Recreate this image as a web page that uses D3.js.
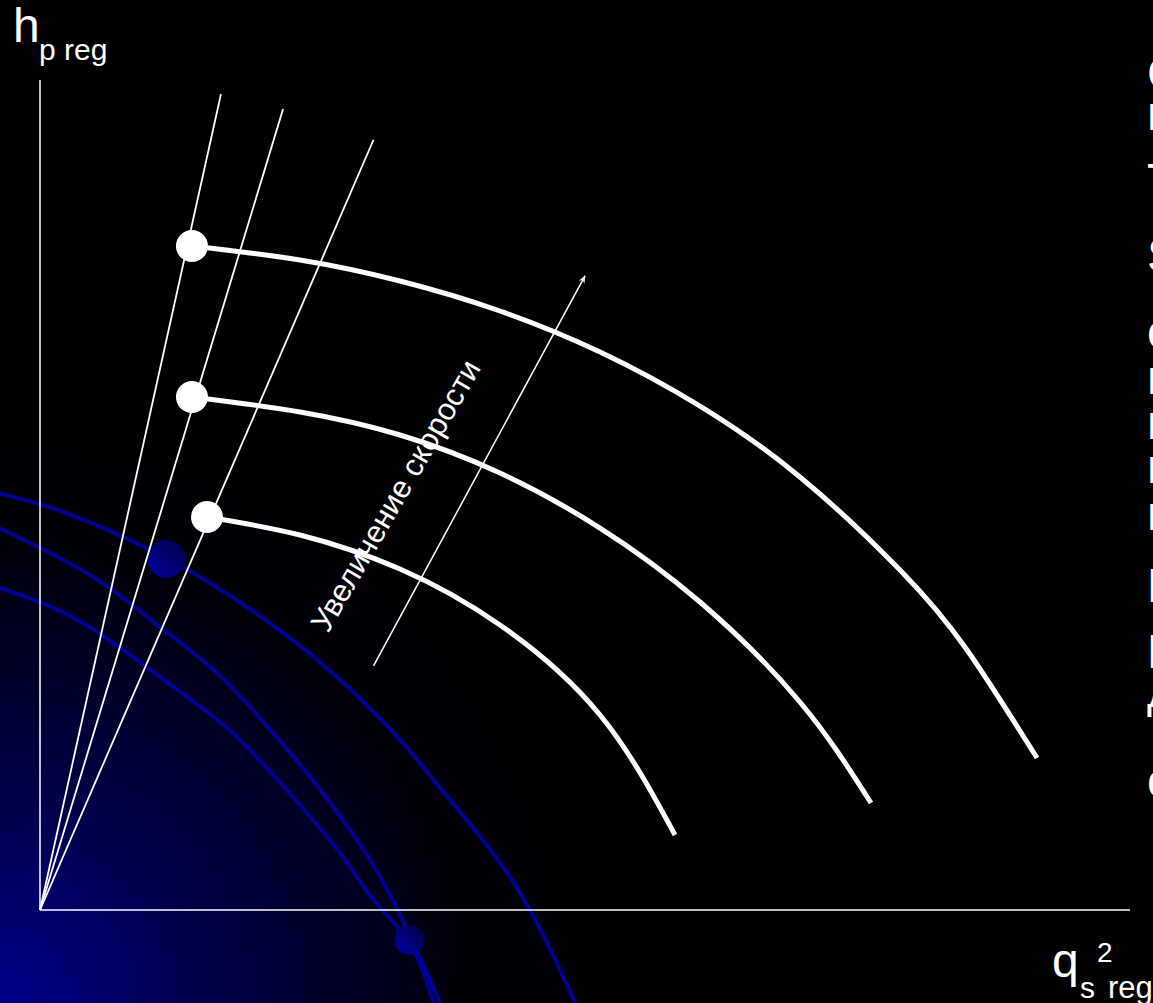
<!DOCTYPE html>
<html>
<head>
<meta charset="utf-8">
<script src="https://cdn.jsdelivr.net/npm/d3@7"></script>
<style>
  html, body { margin: 0; padding: 0; background: #000; }
  svg { display: block; }
  text { font-family: "Liberation Sans", Arial, sans-serif; fill: #fff; }
</style>
</head>
<body>
<div id="chart"></div>
<script>
"use strict";

// pump curves h_p reg vs q_s^2 reg, three speeds (units: 0..100 on both axes)
var curveSlow = [[15.32, 47.35], [23.85, 45.18], [33.03, 41.08], [42.20, 34.34], [51.38, 23.49], [58.26, 9.04]];
var curveMid  = [[13.94, 61.81], [23.85, 60.00], [33.03, 57.23], [42.20, 52.65], [51.38, 46.02], [60.55, 37.11], [69.72, 25.06], [76.24, 12.89]];
var curveFast = [[13.94, 80.00], [23.85, 78.31], [33.03, 75.78], [42.20, 72.17], [51.38, 67.23], [60.55, 60.72], [69.72, 52.17], [78.90, 40.96], [85.05, 31.33], [91.47, 18.31]];
var pumpCurves = [curveSlow, curveMid, curveFast];

// system lines through origin (end points)
var systemLines = [[16.6, 98.3], [22.3, 96.5], [30.6, 92.8]];

// arrow "increase of speed"
var speedArrow = [[30.6, 29.4], [50.0, 76.4]];
var speedLabel = "Увеличение скорости";

// slide decoration
var decoArcs = [
  [[-3.7, 50.2], [2.5, 47.8], [10.1, 43.4], [16.2, 38.9], [22.3, 33.4], [27.8, 27.4], [33.3, 20.1], [37.6, 13.3], [43.6, 3.0], [49.1, -11.2]],
  [[-3.7, 46.0], [4.9, 40.1], [11.0, 34.1], [16.2, 28.6], [21.4, 21.3], [25.7, 14.5], [30.3, 6.0], [33.7, -2.4], [36.7, -11.2]],
  [[-3.7, 38.8], [3.9, 34.6], [12.2, 26.9], [17.7, 21.3], [23.2, 13.6], [27.5, 6.9], [30.6, 1.2], [33.9, -4.0], [36.1, -11.2]]
];
var decoDots = [[11.6, 42.3, 19], [33.9, -3.6, 15]];

// cut-off slide text on the right edge
var sideLetters = ["С", "н", "Т", "S", "с", "п", "п", "п", "п", "Р", "Р", "д", "с"];
var sideBaselines = [90, 130, 197, 272, 348, 394, 439, 483, 530, 602, 668, 707, 797];

var W = 1153, H = 1003;

var xScale = d3.scaleLinear().domain([0, 100]).range([40, 1130]);
var yScale = d3.scaleLinear().domain([0, 100]).range([910, 80]);

var svg = d3.select("#chart").append("svg")
    .attr("width", W)
    .attr("height", H);

var defs = svg.append("defs");

var bg = defs.append("radialGradient")
    .attr("id", "bgGlow")
    .attr("gradientUnits", "userSpaceOnUse")
    .attr("cx", 0).attr("cy", H).attr("r", 620);
bg.append("stop").attr("offset", "0").attr("stop-color", "#00008c");
bg.append("stop").attr("offset", "0.35").attr("stop-color", "#000046");
bg.append("stop").attr("offset", "0.75").attr("stop-color", "#000008");
bg.append("stop").attr("offset", "1").attr("stop-color", "#000000");

var dotGrad = defs.append("linearGradient")
    .attr("id", "dotGrad")
    .attr("x1", "0").attr("y1", "1").attr("x2", "1").attr("y2", "0");
dotGrad.append("stop").attr("offset", "0").attr("stop-color", "#0000a8");
dotGrad.append("stop").attr("offset", "1").attr("stop-color", "#000040");

defs.append("marker")
    .attr("id", "arrowHead")
    .attr("viewBox", "0 0 10 10")
    .attr("refX", 9).attr("refY", 5)
    .attr("markerWidth", 8).attr("markerHeight", 8)
    .attr("markerUnits", "userSpaceOnUse")
    .attr("orient", "auto")
  .append("path")
    .attr("d", "M0,1 L10,5 L0,9 L3,5 Z")
    .attr("fill", "#fff");

svg.append("rect").attr("width", W).attr("height", H).attr("fill", "#000");
svg.append("rect").attr("width", W).attr("height", H).attr("fill", "url(#bgGlow)");

var smooth = d3.line()
    .x(function(d) { return xScale(d[0]); })
    .y(function(d) { return yScale(d[1]); })
    .curve(d3.curveNatural);

// decoration
svg.append("g").selectAll("path")
    .data(decoArcs)
    .enter().append("path")
      .attr("d", smooth)
      .attr("fill", "none")
      .attr("stroke", "#000096")
      .attr("stroke-width", 4);

svg.append("g").selectAll("circle")
    .data(decoDots)
    .enter().append("circle")
      .attr("cx", function(d) { return xScale(d[0]); })
      .attr("cy", function(d) { return yScale(d[1]); })
      .attr("r", function(d) { return d[2]; })
      .attr("fill", "url(#dotGrad)");

// axes
svg.append("line")
    .attr("x1", xScale(0)).attr("y1", yScale(0))
    .attr("x2", xScale(0)).attr("y2", yScale(100))
    .attr("stroke", "#fff").attr("stroke-width", 1.5);
svg.append("line")
    .attr("x1", xScale(0)).attr("y1", yScale(0))
    .attr("x2", xScale(100)).attr("y2", yScale(0))
    .attr("stroke", "#fff").attr("stroke-width", 1.5);

// system lines
svg.append("g").selectAll("line")
    .data(systemLines)
    .enter().append("line")
      .attr("x1", xScale(0)).attr("y1", yScale(0))
      .attr("x2", function(d) { return xScale(d[0]); })
      .attr("y2", function(d) { return yScale(d[1]); })
      .attr("stroke", "#fff")
      .attr("stroke-width", 1.8);

// pump curves
svg.append("g").selectAll("path")
    .data(pumpCurves)
    .enter().append("path")
      .attr("d", smooth)
      .attr("fill", "none")
      .attr("stroke", "#fff")
      .attr("stroke-width", 5);

svg.append("g").selectAll("circle")
    .data(pumpCurves)
    .enter().append("circle")
      .attr("cx", function(d) { return xScale(d[0][0]); })
      .attr("cy", function(d) { return yScale(d[0][1]); })
      .attr("r", 16)
      .attr("fill", "#fff");

// speed arrow + label
svg.append("line")
    .attr("x1", xScale(speedArrow[0][0])).attr("y1", yScale(speedArrow[0][1]))
    .attr("x2", xScale(speedArrow[1][0])).attr("y2", yScale(speedArrow[1][1]))
    .attr("stroke", "#fff")
    .attr("stroke-width", 1.5)
    .attr("marker-end", "url(#arrowHead)");

svg.append("text")
    .attr("transform", "translate(328,634) rotate(-60)")
    .attr("font-size", 31)
    .text(speedLabel);

// axis titles
var yTitle = svg.append("text").attr("x", 13).attr("y", 42).attr("font-size", 48);
yTitle.append("tspan").text("h");
yTitle.append("tspan").attr("x", 39).attr("y", 60).attr("font-size", 30).text("p reg");

var xTitle = svg.append("text").attr("x", 1052).attr("y", 977).attr("font-size", 48);
xTitle.append("tspan").text("q");
xTitle.append("tspan").attr("x", 1080).attr("y", 998).attr("font-size", 30).text("s");
xTitle.append("tspan").attr("x", 1097).attr("y", 962).attr("font-size", 28).text("2");
xTitle.append("tspan").attr("x", 1108).attr("y", 998).attr("font-size", 31).text("reg");

// right-hand slide text, clipped by the page edge
svg.append("g").selectAll("text")
    .data(sideLetters)
    .enter().append("text")
      .attr("x", 1147)
      .attr("y", function(d, i) { return sideBaselines[i]; })
      .attr("font-size", 48)
      .text(function(d) { return d; });
</script>
</body>
</html>
